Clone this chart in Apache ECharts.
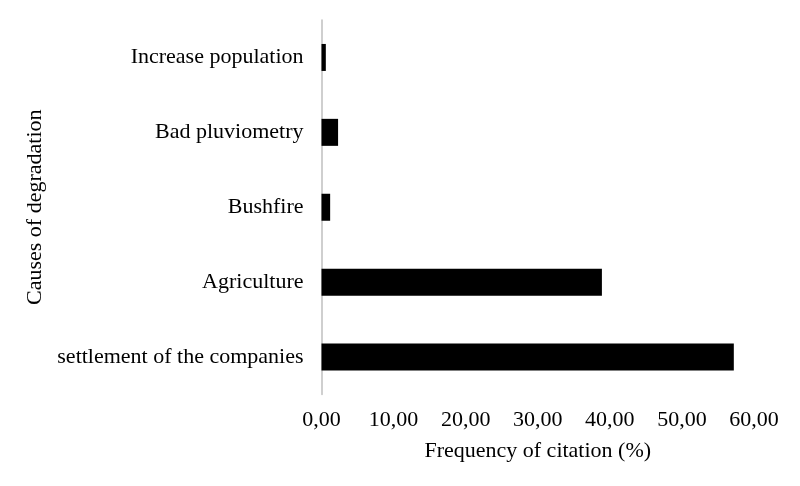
<!DOCTYPE html>
<html>
<head>
<meta charset="utf-8">
<script src="https://cdn.jsdelivr.net/npm/echarts@6/dist/echarts.min.js"></script>
<style>html,body{margin:0;padding:0;background:#fff}#c{width:800px;height:486px}</style>
</head>
<body>
<div id="c"></div>
<script>
const categories = ["settlement of the companies", "Agriculture", "Bushfire", "Bad pluviometry", "Increase population"];
const frequency = [57.2, 38.9, 1.2, 2.3, 0.6];
const xTicks = [0, 10, 20, 30, 40, 50, 60];

const FONT = "'Liberation Serif', 'Times New Roman', serif";
const chart = echarts.init(document.getElementById('c'), null, {renderer: 'canvas'});
chart.setOption({
  animation: false,
  backgroundColor: '#ffffff',
  grid: {left: 321.5, right: 46, top: 20, bottom: 91.5, containLabel: false},
  xAxis: {
    type: 'value',
    min: xTicks[0],
    max: xTicks[xTicks.length - 1],
    interval: xTicks[1] - xTicks[0],
    name: 'Frequency of citation (%)',
    nameLocation: 'middle',
    nameGap: 46,
    nameTextStyle: {fontFamily: FONT, fontSize: 22, color: '#000'},
    axisLine: {show: false},
    axisTick: {show: false},
    splitLine: {show: false},
    axisLabel: {
      fontFamily: FONT, fontSize: 22, color: '#000', margin: 15,
      formatter: v => v.toFixed(2).replace('.', ',')
    }
  },
  yAxis: {
    type: 'category',
    data: categories,
    name: 'Causes of degradation',
    nameLocation: 'middle',
    nameGap: 272,
    nameTextStyle: {fontFamily: FONT, fontSize: 22, color: '#000'},
    axisLine: {show: true, lineStyle: {color: '#bfbfbf', width: 1.5}},
    axisTick: {show: false},
    axisLabel: {fontFamily: FONT, fontSize: 22, color: '#000', margin: 18}
  },
  series: [{
    type: 'bar',
    data: frequency,
    barWidth: 27,
    itemStyle: {color: '#000000'}
  }]
});
</script>
</body>
</html>
